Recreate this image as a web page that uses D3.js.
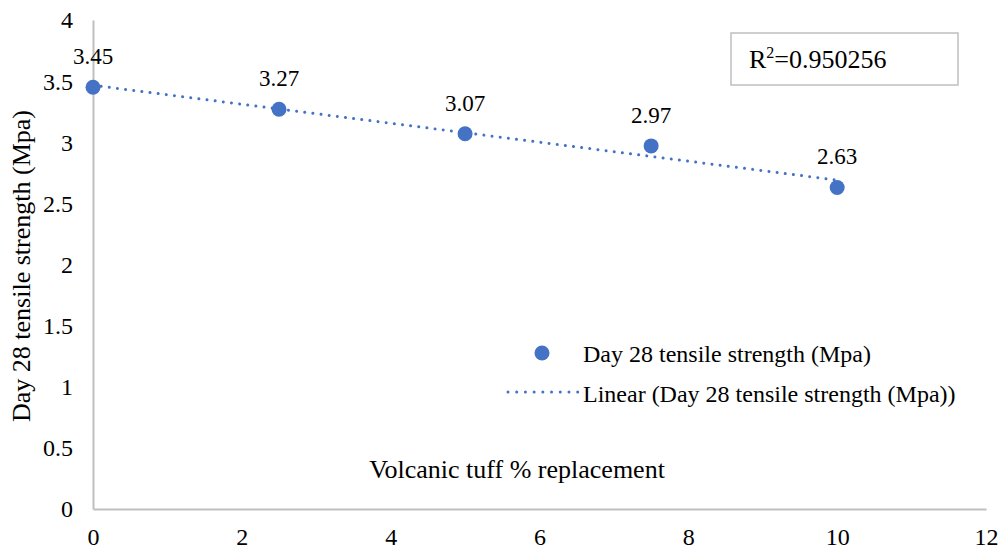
<!DOCTYPE html>
<html><head><meta charset="utf-8">
<script src="https://cdn.jsdelivr.net/npm/d3@7"></script>
<style>body{margin:0;background:#fff}svg{display:block}</style>
</head><body><svg id="c" width="1003" height="550"></svg>
<script>
const xValues = [0, 2.5, 5, 7.5, 10];
const yValues = [3.45, 3.27, 3.07, 2.97, 2.63];
const xTicks = [0, 2, 4, 6, 8, 10, 12];
const yTicks = [0, 0.5, 1, 1.5, 2, 2.5, 3, 3.5, 4];
const seriesName = "Day 28 tensile strength (Mpa)";
const trendName = "Linear (Day 28 tensile strength (Mpa))";
const r2Text = "0.950256";
const xTitle = "Volcanic tuff % replacement";
const yTitle = "Day 28 tensile strength (Mpa)";

const FONT = "Liberation Serif";
const color = "#4472C4", axisColor = "#BFBFBF";
const svg = d3.select("#c");
const x = d3.scaleLinear().domain([0, 12]).range([93, 986]);
const y = d3.scaleLinear().domain([0, 4]).range([509, 20]);

// axes
const xa = svg.append("g").attr("transform", `translate(0,${y(0)})`)
  .call(d3.axisBottom(x).tickValues(xTicks).tickSize(0).tickFormat(d3.format("")));
xa.select(".domain").attr("stroke", axisColor).attr("stroke-width", 2);
xa.selectAll("text").attr("font-family", FONT).attr("font-size", 24)
  .attr("dy", "0").attr("y", 36).attr("fill", "#000");
const ya = svg.append("g").attr("transform", `translate(${x(0)},0)`)
  .call(d3.axisLeft(y).tickValues(yTicks).tickSize(0).tickFormat(d3.format("")));
ya.select(".domain").attr("stroke", axisColor).attr("stroke-width", 2);
ya.selectAll("text").attr("font-family", FONT).attr("font-size", 24)
  .attr("x", -20).attr("dy", "0.33em").attr("fill", "#000");

// regression trendline
const mx = d3.mean(xValues), my = d3.mean(yValues);
let sxy = 0, sxx = 0;
xValues.forEach((v, i) => { sxy += (v - mx) * (yValues[i] - my); sxx += (v - mx) ** 2; });
const slope = sxy / sxx, icpt = my - slope * mx;
const x0 = d3.min(xValues), x1 = d3.max(xValues);
svg.append("line")
  .attr("x1", x(x0)).attr("y1", y(icpt + slope * x0))
  .attr("x2", x(x1)).attr("y2", y(icpt + slope * x1))
  .attr("stroke", color).attr("stroke-width", 3)
  .attr("stroke-linecap", "round").attr("stroke-dasharray", "0.01 8.2");

// points
const pts = xValues.map((v, i) => ({x: v, y: yValues[i]}));
svg.selectAll("circle.pt").data(pts).join("circle").attr("class", "pt")
  .attr("cx", d => x(d.x)).attr("cy", d => y(d.y)).attr("r", 7.5).attr("fill", color);
svg.selectAll("text.lbl").data(pts).join("text").attr("class", "lbl")
  .attr("x", d => x(d.x)).attr("y", d => y(d.y) - 23)
  .attr("text-anchor", "middle").attr("font-family", FONT).attr("font-size", 23)
  .text(d => d3.format(".2f")(d.y));

// R2 box
svg.append("rect").attr("x", 731).attr("y", 33).attr("width", 227).attr("height", 52)
  .attr("fill", "#fff").attr("stroke", axisColor).attr("stroke-width", 1.5);
const rt = svg.append("text").attr("x", 749).attr("y", 68)
  .attr("font-family", FONT).attr("font-size", 26);
rt.append("tspan").text("R");
rt.append("tspan").attr("font-size", 16).attr("dy", -10).text("2");
rt.append("tspan").attr("dy", 10).text("=" + r2Text);

// legend
svg.append("circle").attr("cx", 542).attr("cy", 353).attr("r", 7.5).attr("fill", color);
svg.append("text").attr("x", 583).attr("y", 362).attr("font-family", FONT)
  .attr("font-size", 24).text(seriesName);
svg.append("line").attr("x1", 508).attr("x2", 578).attr("y1", 392).attr("y2", 392)
  .attr("stroke", color).attr("stroke-width", 3)
  .attr("stroke-linecap", "round").attr("stroke-dasharray", "0.01 8.7");
svg.append("text").attr("x", 583).attr("y", 402).attr("font-family", FONT)
  .attr("font-size", 24).text(trendName);

// titles
svg.append("text").attr("x", 517).attr("y", 478).attr("text-anchor", "middle")
  .attr("font-family", FONT).attr("font-size", 26).text(xTitle);
svg.append("text").attr("transform", "translate(30,266) rotate(-90)")
  .attr("text-anchor", "middle").attr("font-family", FONT).attr("font-size", 26).text(yTitle);
</script></body></html>
